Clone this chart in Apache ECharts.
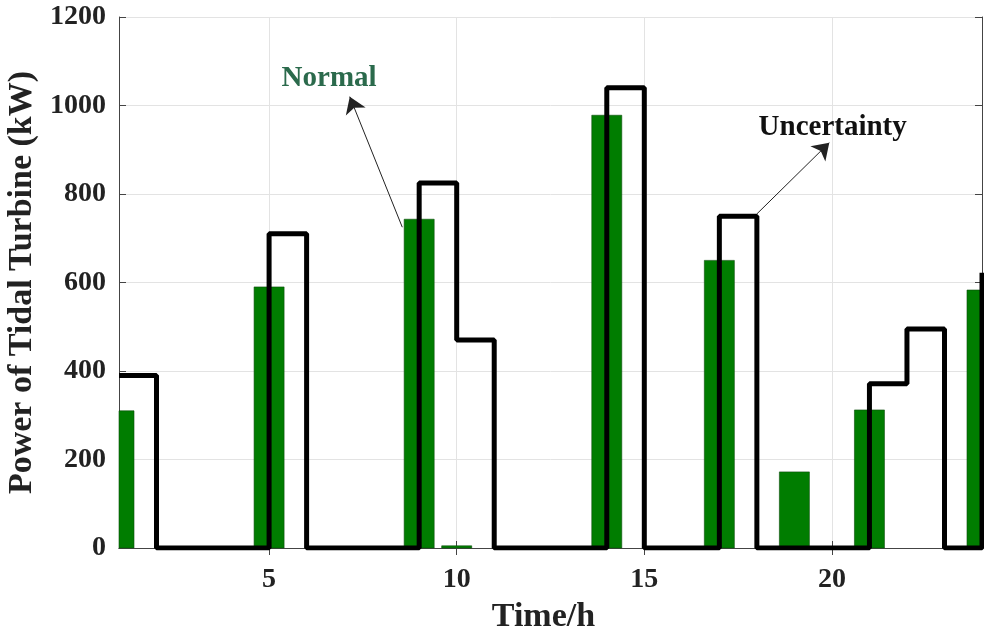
<!DOCTYPE html>
<html>
<head>
<meta charset="utf-8">
<script src="https://cdn.jsdelivr.net/npm/echarts@6/dist/echarts.min.js"></script>
<style>
  html, body { margin: 0; padding: 0; background: #fff; }
  #main { width: 984px; height: 639px; }
</style>
</head>
<body>
<div id="main"></div>
<script>
// 数据：每小时潮汐机组出力
var hours = [1, 2, 3, 4, 5, 6, 7, 8, 9, 10, 11, 12, 13, 14, 15, 16, 17, 18, 19, 20, 21, 22, 23, 24];
var normalPower = [310, 0, 0, 0, 590, 0, 0, 0, 743, 5, 0, 0, 0, 978, 0, 0, 650, 0, 172, 0, 312, 0, 0, 583];
var uncertainPower = [390, 0, 0, 0, 710, 0, 0, 0, 825, 470, 0, 0, 0, 1040, 0, 0, 750, 0, 0, 0, 371, 495, 0, 622];
var xTickValues = [5, 10, 15, 20];

var serif = "'Liberation Serif', 'Times New Roman', serif";

var normalData = hours.map(function (h, i) { return [h, normalPower[i]]; });
var uncertainData = hours.map(function (h, i) { return [h, uncertainPower[i]]; });

// 柱子：用 custom 画，超出坐标区的部分裁掉
function renderBar(params, api) {
  var x = api.value(0);
  var y = api.value(1);
  var base = api.coord([x, 0]);
  var top = api.coord([x, y]);
  var w = api.size([0.8, 0])[0];
  var rect = echarts.graphic.clipRectByRect(
    { x: base[0] - w / 2, y: top[1], width: w, height: base[1] - top[1] },
    { x: params.coordSys.x, y: params.coordSys.y, width: params.coordSys.width, height: params.coordSys.height }
  );
  if (!rect || rect.height <= 0) return null;
  return {
    type: 'rect',
    shape: rect,
    style: { fill: '#007d00', stroke: '#0b4d0b', lineWidth: 0.6 }
  };
}

var chart = echarts.init(document.getElementById('main'));

var option = {
  animation: false,
  backgroundColor: '#fff',
  grid: { left: 119, right: 2, top: 17, bottom: 91, containLabel: false, outerBoundsMode: 'none' },
  xAxis: [
    {
      type: 'value', min: 1, max: 24, position: 'bottom',
      name: 'Time/h', nameLocation: 'middle', nameGap: 52,
      nameTextStyle: { fontFamily: serif, fontWeight: 'bold', fontSize: 34, color: '#222', padding: [0, 14, 0, 0] },
      axisLine: { show: true, lineStyle: { color: '#444', width: 1 } },
      axisTick: { show: true, inside: true, length: 7, customValues: xTickValues, lineStyle: { color: '#444' } },
      axisLabel: { customValues: xTickValues, fontFamily: serif, fontWeight: 'bold', fontSize: 28, color: '#222', margin: 18 },
      splitLine: { show: false }
    },
    {
      type: 'value', min: 1, max: 24, position: 'top',
      axisLine: { show: true, lineStyle: { color: '#444', width: 1 } },
      axisTick: { show: true, inside: true, length: 7, customValues: xTickValues, lineStyle: { color: '#444' } },
      axisLabel: { show: false },
      splitLine: { show: false }
    }
  ],
  yAxis: [
    {
      type: 'value', min: 0, max: 1200, interval: 200, position: 'left',
      name: 'Power of Tidal Turbine (kW)', nameLocation: 'middle', nameGap: 73,
      nameTextStyle: { fontFamily: serif, fontWeight: 'bold', fontSize: 34, color: '#222' },
      axisLine: { show: true, lineStyle: { color: '#444', width: 1 } },
      axisTick: { show: true, inside: true, length: 7, lineStyle: { color: '#444' } },
      axisLabel: {
        fontFamily: serif, fontWeight: 'bold', fontSize: 28, color: '#222', margin: 13,
        formatter: function (v) { return String(v); }
      },
      splitLine: { show: true, lineStyle: { color: '#e3e3e3', width: 1 } }
    },
    {
      type: 'value', min: 0, max: 1200, interval: 200, position: 'right',
      axisLine: { show: true, lineStyle: { color: '#444', width: 1 } },
      axisTick: { show: true, inside: true, length: 7, lineStyle: { color: '#444' } },
      axisLabel: { show: false },
      splitLine: { show: false }
    }
  ],
  series: [
    {
      // 竖向网格线（放在最底层）
      name: 'grid',
      type: 'line',
      data: [],
      z: 0,
      markLine: {
        silent: true, symbol: 'none', animation: false, z: 0,
        label: { show: false },
        lineStyle: { color: '#e3e3e3', width: 1, type: 'solid' },
        data: xTickValues.map(function (v) { return { xAxis: v }; })
      }
    },
    {
      name: 'Normal',
      type: 'custom',
      renderItem: renderBar,
      data: normalData,
      encode: { x: 0, y: 1 },
      z: 2
    },
    {
      name: 'Uncertainty',
      type: 'line',
      step: 'end',
      data: uncertainData,
      showSymbol: false,
      symbol: 'none',
      lineStyle: { color: '#000', width: 5 },
      z: 3,
      markLine: {
        silent: true, animation: false,
        symbol: ['none', 'arrow'], symbolSize: 16,
        label: { show: false },
        lineStyle: { color: '#222', width: 1, type: 'solid' },
        data: [
          [{ coord: [8.55, 725] }, { coord: [7.15, 1020] }],
          [{ coord: [18.0, 755] }, { coord: [19.93, 916] }]
        ]
      },
      markPoint: {
        silent: true, animation: false,
        symbol: 'circle', symbolSize: 1,
        itemStyle: { color: 'rgba(0,0,0,0)' },
        label: { show: true, position: 'inside', formatter: '{b}', fontFamily: serif, fontWeight: 'bold', fontSize: 29 },
        data: [
          { name: 'Normal', coord: [6.6, 1062], label: { color: '#2b6a4c' } },
          { name: 'Uncertainty', coord: [20.02, 951], label: { color: '#111' } }
        ]
      }
    }
  ]
};

chart.setOption(option);
</script>
</body>
</html>
